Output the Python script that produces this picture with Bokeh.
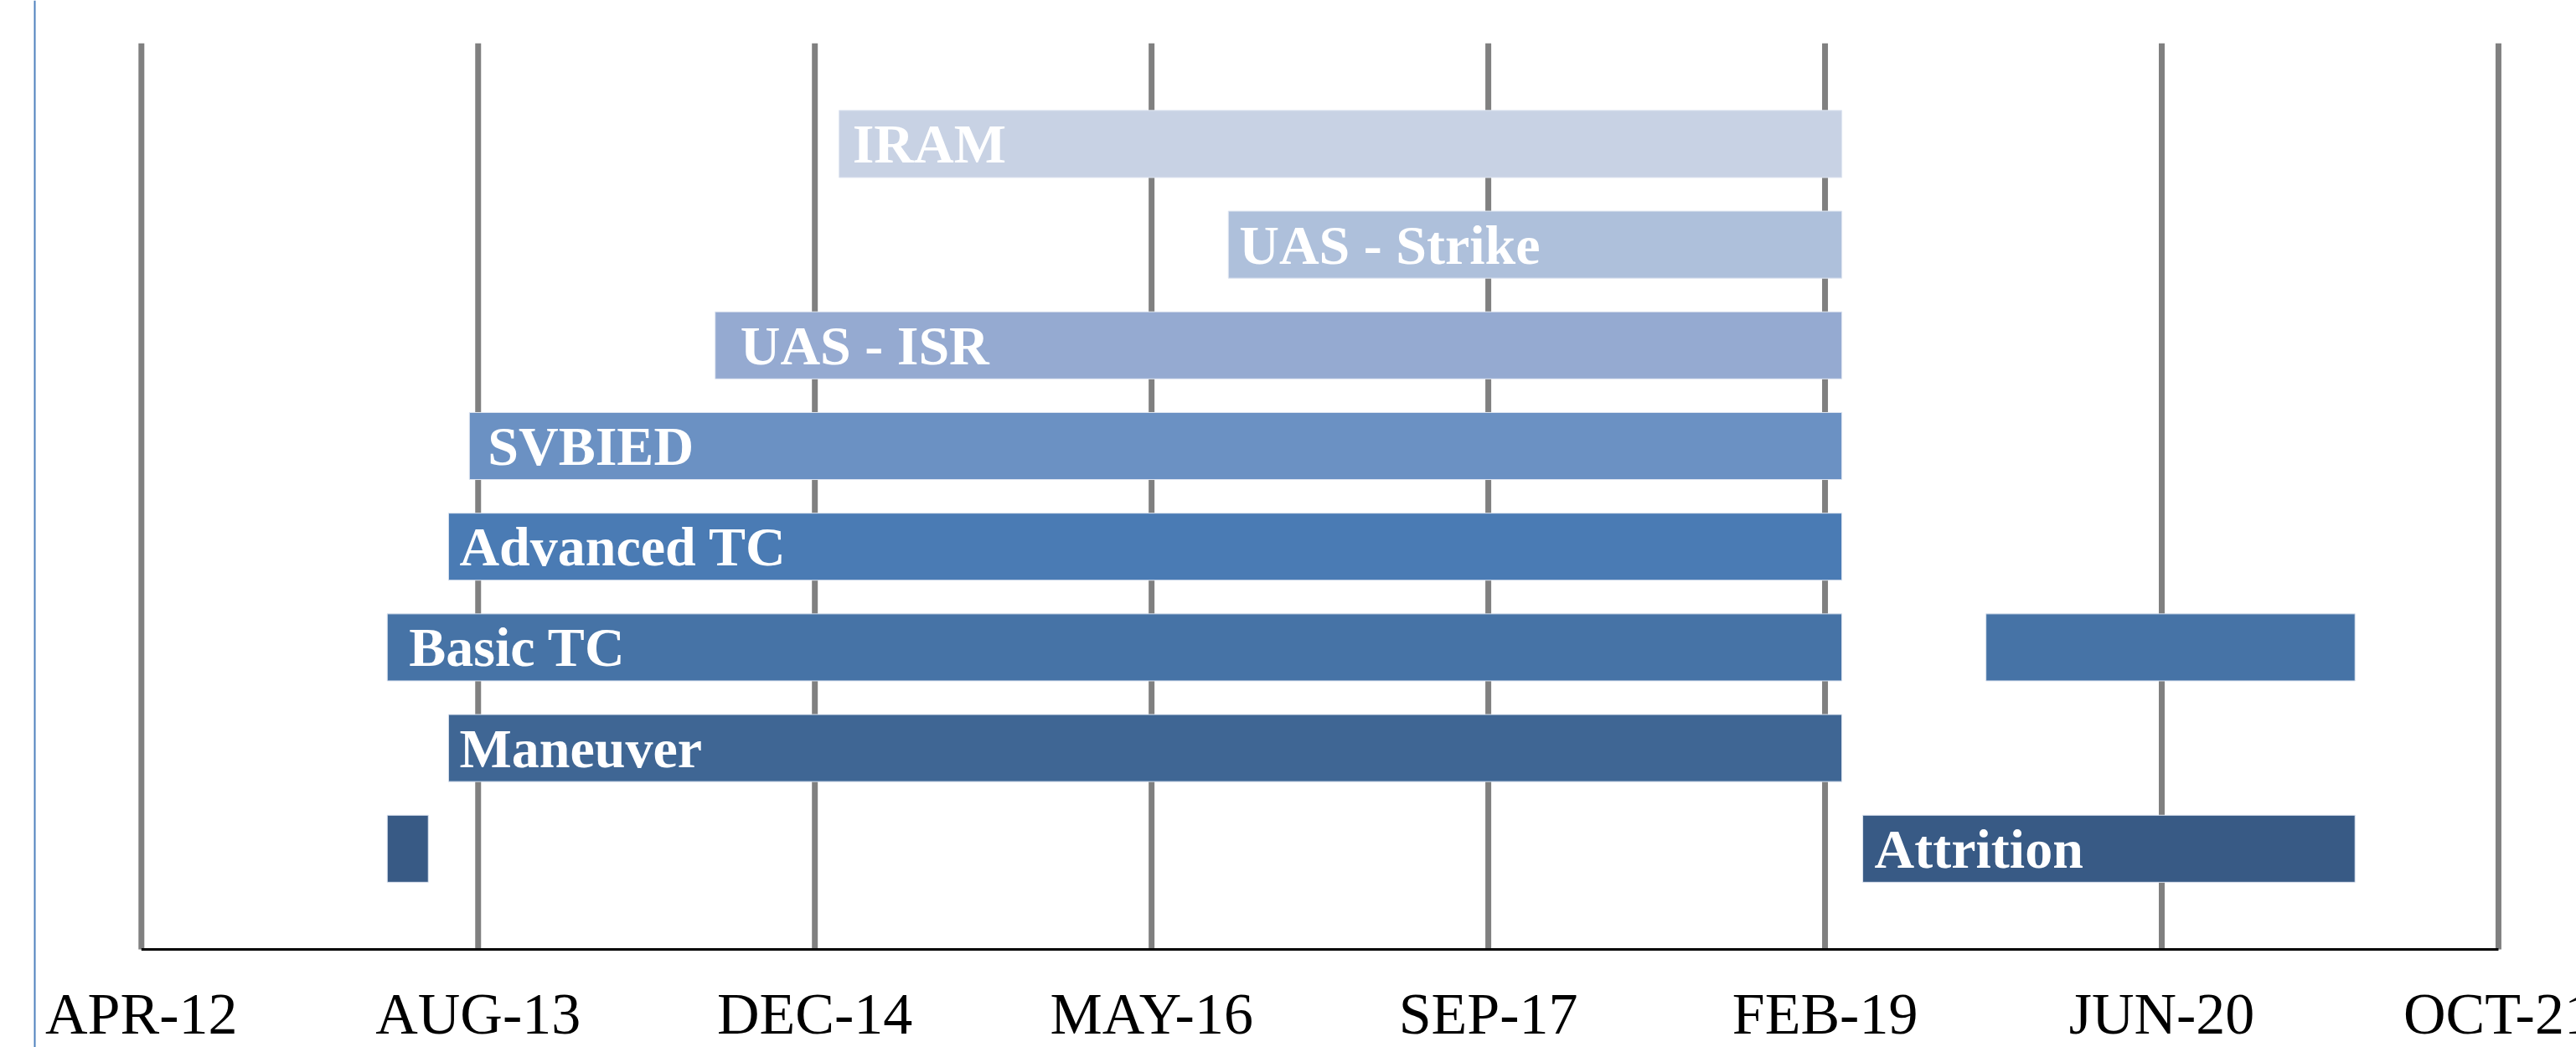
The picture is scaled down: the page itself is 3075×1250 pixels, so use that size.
import pandas as pd
from bokeh.plotting import figure
from bokeh.models import Range1d, Span, ColumnDataSource
from bokeh.core.properties import value
from bokeh.embed import file_html
from bokeh.resources import INLINE

# ---------------- data ----------------
rows = ["Attrition", "Maneuver", "Basic TC", "Advanced TC", "SVBIED",
        "UAS - ISR", "UAS - Strike", "IRAM"]          # bottom -> top

seg_row = ["Attrition", "Attrition", "Maneuver", "Basic TC", "Basic TC",
           "Advanced TC", "SVBIED", "UAS - ISR", "UAS - Strike", "IRAM"]
seg_start = ["2013-04-01", "2019-04-01", "2013-07-01", "2013-04-01", "2019-10-01",
             "2013-07-01", "2013-08-01", "2014-08-01", "2016-09-01", "2015-02-01"]
seg_end = ["2013-06-01", "2021-04-01", "2019-03-01", "2019-03-01", "2021-04-01",
           "2019-03-01", "2019-03-01", "2019-03-01", "2019-03-01", "2019-03-01"]
seg_label = ["", "Attrition", "Maneuver", "Basic TC", "",
             "Advanced TC", "SVBIED", "UAS - ISR", "UAS - Strike", "IRAM"]

tick_dates = ["2012-04-01", "2013-08-14", "2014-12-27", "2016-05-10",
              "2017-09-22", "2019-02-04", "2020-06-18", "2021-10-31"]
tick_labels = ["APR-12", "AUG-13", "DEC-14", "MAY-16", "SEP-17", "FEB-19",
               "JUN-20", "OCT-21"]

# ---------------- styles ----------------
row_colors = {
    "Attrition": "#385a85", "Maneuver": "#3f6694", "Basic TC": "#4673a6",
    "Advanced TC": "#4a7bb4", "SVBIED": "#6b91c3", "UAS - ISR": "#95aad1",
    "UAS - Strike": "#aec0db", "IRAM": "#c8d2e4",
}
label_pad = {"Attrition": 14, "Maneuver": 13, "Basic TC": 26, "Advanced TC": 13,
             "SVBIED": 22, "UAS - ISR": 30, "UAS - Strike": 13, "IRAM": 16}

W, H = 3075, 1250
ORIGIN = 0              # canvas offset in the picture
BASE_PX = 1133          # picture y of the time baseline
PITCH = 120.2           # pixels per row
X0_PX = 168.3           # picture x of first tick
PX_PER_DAY = 0.8039
GRID_TOP = 9.0
TICK_LABEL_MID_PX = 1210

d0 = pd.Timestamp(tick_dates[0])
x_start = d0 + pd.Timedelta(days=(ORIGIN - X0_PX) / PX_PER_DAY)
x_end = d0 + pd.Timedelta(days=(ORIGIN + W - X0_PX) / PX_PER_DAY)
y_top = (BASE_PX - ORIGIN) / PITCH
y_bot = -(ORIGIN + H - BASE_PX) / PITCH

p = figure(width=W, height=H, output_backend="svg", toolbar_location=None,
           x_axis_location=None, y_axis_location=None,
           x_range=Range1d(x_start, x_end), y_range=Range1d(y_bot, y_top),
           min_border=0, outline_line_color=None, background_fill_color="white")
p.xgrid.visible = False
p.ygrid.visible = False

ticks = pd.to_datetime(tick_dates)

# left blue border line
p.add_layout(Span(location=d0 + pd.Timedelta(days=(41 - X0_PX) / PX_PER_DAY),
                  dimension="height", line_color="#4f81bd", line_width=2))

# vertical grid lines
p.segment(x0=ticks, y0=[0] * len(ticks), x1=ticks, y1=[GRID_TOP] * len(ticks),
          line_color="#808080", line_width=7)

# baseline
p.segment(x0=[ticks[0]], y0=[0], x1=[ticks[-1]], y1=[0],
          line_color="black", line_width=3)

ypos = [rows.index(r) + 1 for r in seg_row]
src = ColumnDataSource(dict(
    y=ypos,
    left=pd.to_datetime(seg_start),
    right=pd.to_datetime(seg_end),
    color=[row_colors[r] for r in seg_row],
    label=seg_label,
    pad=[label_pad[r] for r in seg_row],
))
p.hbar(y="y", left="left", right="right", height=0.666, source=src,
       fill_color="color", line_color="#dfe6f1", line_width=1)

p.text(x="left", y="y", text="label", x_offset="pad", source=src,
       text_color="white", text_font=value("Liberation Serif"),
       text_font_style="bold", text_font_size="66px",
       text_align="left", text_baseline="middle")

# tick labels
p.text(x=ticks, y=[-(TICK_LABEL_MID_PX - BASE_PX) / PITCH] * len(ticks),
       text=tick_labels, text_color="black",
       text_font=value("Liberation Serif"), text_font_size="70px",
       text_align="center", text_baseline="middle")

open("out.html", "w").write(file_html(p, INLINE))
